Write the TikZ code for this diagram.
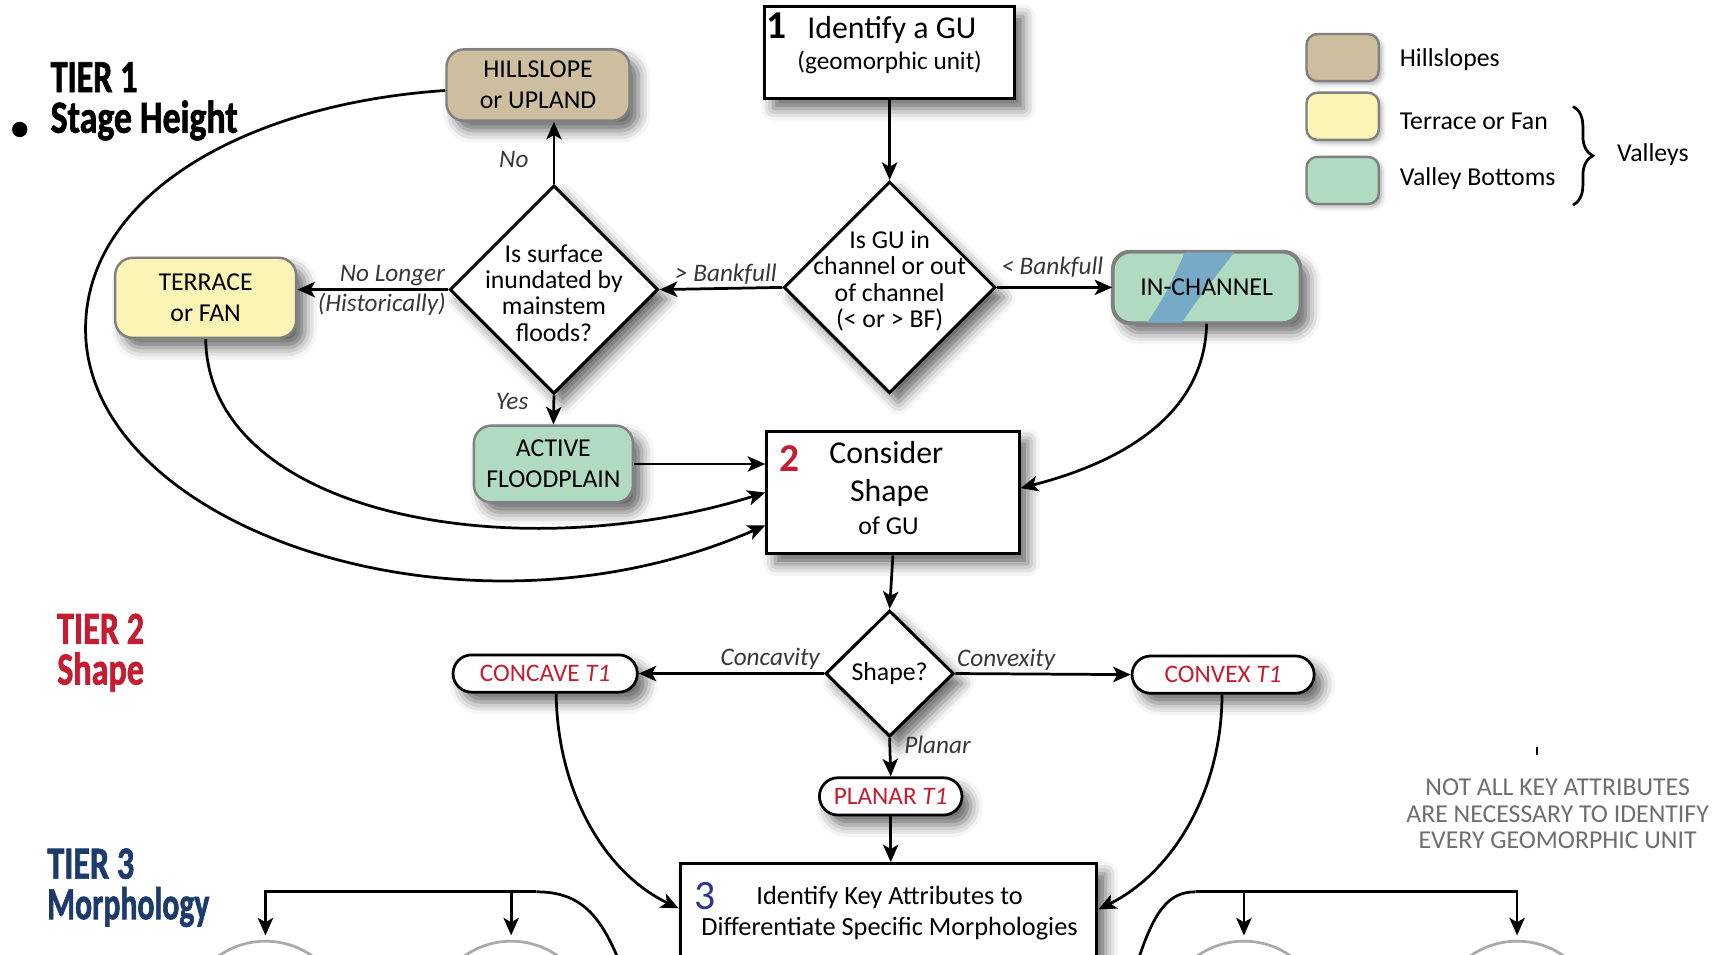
\documentclass[tikz,border=0pt]{standalone}
\usepackage{fontspec}
\setmainfont{Carlito}
\newfontfamily\tierfont{Carlito}[FakeStretch=0.74, FakeBold=1.4]
\usetikzlibrary{arrows.meta,shapes.geometric,shadows.blur,decorations.pathreplacing,calc}

\definecolor{hillfill}{RGB}{206,190,160}
\definecolor{terrfill}{RGB}{250,245,180}
\definecolor{vbfill}{RGB}{176,219,193}
\definecolor{chanblue}{RGB}{118,170,198}
\definecolor{edgegray}{RGB}{128,128,128}
\definecolor{tierred}{RGB}{196,28,48}
\definecolor{tiernavy}{RGB}{28,58,108}
\definecolor{numblue}{RGB}{46,52,150}
\definecolor{notegray}{RGB}{110,110,110}
\definecolor{labelgray}{RGB}{55,55,55}
\definecolor{arcgray}{RGB}{170,170,170}

\tikzset{
  shad/.style={blur shadow={shadow xshift=8pt,shadow yshift=-9pt,shadow blur radius=11pt,shadow opacity=60}},
  unit/.style={draw=edgegray, line width=2.2pt, rounded corners=16pt, align=center, inner sep=0pt,
               font=\fontsize{23.5}{28}\selectfont, shad},
  stepbox/.style={draw, line width=2.8pt, fill=white, inner sep=0pt, shad},
  decision/.style={diamond, draw, line width=2.8pt, fill=white, inner sep=0pt, shad},
  qtext/.style={align=center, font=\fontsize{23.5}{24}\selectfont, inner sep=0pt},
  result/.style={draw, line width=2.5pt, fill=white, rounded corners=17pt, minimum height=34pt,
                 inner sep=0pt, text=tierred, font=\fontsize{23}{25}\selectfont, shad},
  lbl/.style={font=\itshape\fontsize{23}{25}\selectfont, text=labelgray, inner sep=2pt},
  arr/.style={line width=2.5pt, -{Stealth[length=16pt,width=14pt,inset=4pt]}},
  link/.style={line width=2.5pt},
  tier/.style={anchor=base west, inner sep=0pt, transform shape, font=\tierfont\bfseries\fontsize{42}{42}\selectfont},
  legbox/.style={draw=edgegray, line width=2.2pt, rounded corners=10pt, minimum width=66pt,
                 minimum height=43pt, inner sep=0pt,
                 blur shadow={shadow xshift=3pt,shadow yshift=-3pt,shadow blur radius=4pt,shadow opacity=30}},
  legtext/.style={anchor=west, inner sep=0pt, font=\fontsize{23.5}{25}\selectfont},
  morph/.style={circle, draw=arcgray, line width=2.5pt, minimum size=148pt, inner sep=0pt},
  txt/.style={inner sep=0pt},
}

\begin{document}
\begin{tikzpicture}[x=1pt,y=-1pt]
\useasboundingbox (0,0) rectangle (1568,870);
\clip (0,0) rectangle (1568,870);

% tier headings
\node[circle, fill, minimum size=14pt, inner sep=0pt] (bullet) at (18,118) {};
\node[tier] (t1a) at (46,84) {TIER 1};
\node[tier, xscale=1.05] (t1b) at (46,121) {Stage Height};
\node[tier, text=tierred] (t2a) at (52,587) {TIER 2};
\node[tier, text=tierred] (t2b) at (52,624) {Shape};
\node[tier, text=tiernavy] (t3a) at (43,801) {TIER 3};
\node[tier, text=tiernavy, xscale=0.93] (t3b) at (43,838) {Morphology};

% legend
\node[legbox, fill=hillfill] (lg1) at (1224,52.5) {};
\node[legbox, fill=terrfill] (lg2) at (1224,106) {};
\node[legbox, fill=vbfill] (lg3) at (1224,164.5) {};
\node[legtext] (lt1) at (1276,54) {Hillslopes};
\node[legtext] (lt2) at (1276,111) {Terrace or Fan};
\node[legtext] (lt3) at (1276,163) {Valley Bottoms};
\draw[line width=2.5pt, decorate, decoration={brace, amplitude=18pt}] (1434,97) -- (1434,187);
\node[legtext] (lt4) at (1474,141) {Valleys};

% step 1
\node[stepbox, minimum width=228pt, minimum height=84pt] (b1) at (811,48) {};
\node[txt, font=\bfseries\fontsize{36}{36}\selectfont] (b1n) at (708,23) {1};
\node[txt, font=\fontsize{29}{30}\selectfont] (b1a) at (813,27) {Identify a GU};
\node[txt, font=\fontsize{23}{25}\selectfont] (b1b) at (811,57) {(geomorphic unit)};

% tier 1 decisions
\node[decision, minimum width=193pt, minimum height=193pt] (q2) at (811,262) {};
\node[qtext] (q2t) at (811,256) {Is GU in\\channel or out\\of channel\\(< or > BF)};
\node[decision, minimum width=190pt, minimum height=190pt] (q1) at (505,264) {};
\node[qtext] (q1t) at (505,267) {Is surface\\inundated by\\mainstem\\floods?};

% tier 1 units
\node[unit, fill=hillfill, minimum width=167pt, minimum height=65pt] (hill) at (490.5,77.5) {HILLSLOPE\\or UPLAND};
\node[unit, fill=terrfill, minimum width=165pt, minimum height=73pt] (terr) at (187.5,271.5) {TERRACE\\or FAN};
\node[unit, fill=vbfill, minimum width=145pt, minimum height=70pt] (actv) at (504.5,423) {ACTIVE\\FLOODPLAIN};
\node[unit, fill=vbfill, minimum width=170pt, minimum height=64pt] (inch) at (1100,262) {};
% channel stripe across the in-channel unit
\begin{scope}
  \clip[rounded corners=16pt] (inch.north west) rectangle (inch.south east);
  \fill[chanblue] (1082,226) -- (1128,226) .. controls (1105,257) and (1095,267) .. (1075,298)
     -- (1043,298) .. controls (1065,267) and (1070,252) .. cycle;
\end{scope}
\draw[draw=edgegray, line width=2.2pt, rounded corners=16pt] (inch.north west) rectangle (inch.south east);
\node[txt, font=\fontsize{23.5}{28}\selectfont] (incht) at (inch) {IN-CHANNEL};

% step 2
\node[stepbox, minimum width=230pt, minimum height=112pt] (b2) at (814,449) {};
\node[txt, font=\bfseries\fontsize{36}{36}\selectfont, text=tierred] (b2n) at (720,418) {2};
\node[txt, font=\fontsize{29}{30}\selectfont] (b2a) at (808,413) {Consider};
\node[txt, font=\fontsize{29}{30}\selectfont] (b2b) at (811,449) {Shape};
\node[txt, font=\fontsize{23.5}{25}\selectfont] (b2c) at (810,479) {of GU};

% tier 2
\node[decision, minimum width=117pt, minimum height=115pt] (q3) at (811,614) {};
\node[qtext] (q3t) at (811,614) {Shape?};
\node[result, minimum width=168pt] (conc) at (497,614) {CONCAVE \textit{T1}};
\node[result, minimum width=166pt] (conv) at (1115,615) {CONVEX \textit{T1}};
\node[result, minimum width=130pt] (plan) at (812,726) {PLANAR \textit{T1}};

% step 3
\node[stepbox, minimum width=380pt, minimum height=130pt, anchor=north] (b3) at (810,786) {};
\node[txt, font=\fontsize{38}{38}\selectfont, text=numblue] (b3n) at (643,817) {3};
\node[txt, font=\fontsize{24}{26}\selectfont] (b3a) at (811,818) {Identify Key Attributes to};
\node[txt, font=\fontsize{24}{26}\selectfont] (b3b) at (811,847) {Differentiate Specific Morphologies};

% tier 3 morphologies
\node[morph] (m1) at (242,932) {};
\node[morph] (m2) at (466,932) {};
\node[morph] (m3) at (1134,932) {};
\node[morph] (m4) at (1383,932) {};

\node[align=center, text=notegray, font=\fontsize{23.5}{24}\selectfont, inner sep=0pt] (note) at (1420,742)
  {NOT ALL KEY ATTRIBUTES\\ARE NECESSARY TO IDENTIFY\\EVERY GEOMORPHIC UNIT};
\fill (1400,681) rectangle (1402.5,688);

% connectors, tier 1
\draw[arr] (b1.south) -- (q2.north);
\draw[arr] (q2.west) -- node[lbl, above, pos=0.46] {> Bankfull} (q1.east);
\draw[arr] (q2.east) -- node[lbl, above, pos=0.48, yshift=6pt] {< Bankfull} (inch.west);
\draw[arr] (q1.north) -- node[lbl, left, pos=0.4, xshift=-20pt] {No} (q1.north |- hill.south);
\draw[arr] (q1.west) -- node[lbl, above, pos=0.37] {No Longer}
                        node[lbl, below, pos=0.44] {(Historically)} (q1.west -| terr.east);
\draw[arr] (q1.south) -- node[lbl, left, pos=0.2, xshift=-20pt] {Yes} (actv.north);
\draw[arr] (actv.east) -- (actv.east -| b2.west);
\draw[arr] (terr.south) .. controls (190,470) and (470,520) .. (b2.west);
\draw[arr] ([yshift=-5pt]hill.west) .. controls (220,95) and (78,180) .. (78,300)
           .. controls (78,480) and (420,600) .. ([yshift=-30pt]b2.west);
\draw[arr] (inch.south) .. controls (1098,380) and (1020,422) .. ([yshift=4pt]b2.east);

% connectors, tier 2
\draw[arr] (b2.south) -- (q3.north);
\draw[arr] (q3.west) -- node[lbl, above, pos=0.29] {Concavity} (conc.east);
\draw[arr] (q3.east) -- node[lbl, above, pos=0.29] {Convexity} (conv.west);
\draw[arr] (q3.south) -- node[lbl, right, pos=0.17, xshift=10pt] {Planar} (plan.north);
\draw[arr] (plan.south) -- (plan.south |- b3.north);
\draw[arr] ([xshift=10pt]conc.south) .. controls (508,720) and (550,795) .. ([yshift=-42pt]b3.north west);
\draw[arr] ([xshift=-1pt]conv.south) .. controls (1114,720) and (1070,795) .. ([yshift=-43pt]b3.north east);

% connectors, tier 3
\coordinate (lsplit) at (489,813);
\coordinate (lexit) at (566,880);
\draw[link] (lexit) .. controls (548,835) and (530,813) .. (lsplit);
\draw[arr, shorten >=4pt] (lsplit) -| (m1.north);
\draw[arr, shorten >=4pt] (lsplit -| m2.north) -- (m2.north);
\coordinate (rsplit) at (1090,813);
\coordinate (rexit) at (1036,880);
\draw[link] (rexit) .. controls (1052,830) and (1065,813) .. (rsplit);
\draw[arr, shorten >=4pt] (rsplit) -| (m4.north);
\draw[arr, shorten >=4pt] (rsplit -| m3.north) -- (m3.north);
\end{tikzpicture}
\end{document}
